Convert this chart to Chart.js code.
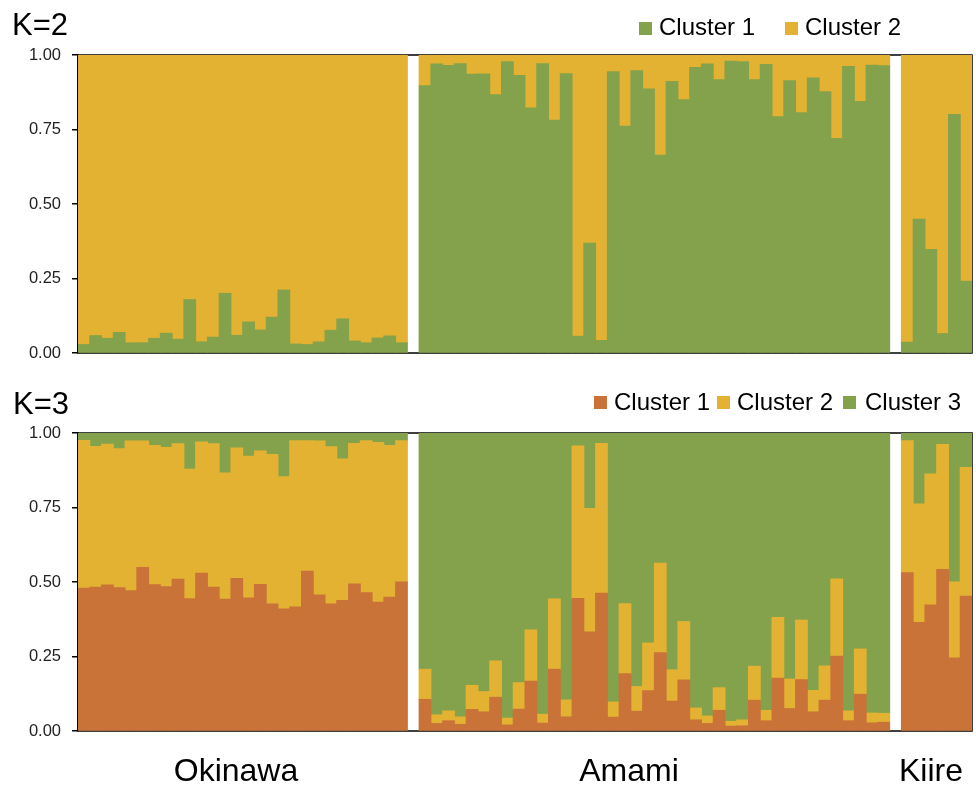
<!DOCTYPE html>
<html>
<head>
<meta charset="utf-8">
<script src="https://cdn.jsdelivr.net/npm/chart.js@4.4.1/dist/chart.umd.min.js"></script>
<style>
  html, body { margin:0; padding:0; background:#fff; }
  body { width:976px; height:785px; position:relative; overflow:hidden; font-family:"Liberation Sans", Arial, sans-serif; }
  canvas { position:absolute; left:0; }
  .t { position:absolute; line-height:1; color:#000; white-space:nowrap; }
  .sq { position:absolute; width:13px; height:13px; }
</style>
</head>
<body>
<canvas id="c2" width="976" height="380" style="top:0"></canvas>
<canvas id="c3" width="976" height="405" style="top:380px"></canvas>

<div class="t" style="left:12px;top:8.8px;font-size:31px">K=2</div>
<div class="sq" style="left:639px;top:22px;background:#84A24B"></div>
<div class="t" style="left:659px;top:14.7px;font-size:24px">Cluster 1</div>
<div class="sq" style="left:785px;top:22px;background:#E3B233"></div>
<div class="t" style="left:805px;top:14.7px;font-size:24px">Cluster 2</div>

<div class="t" style="left:13px;top:387.8px;font-size:31px">K=3</div>
<div class="sq" style="left:594px;top:396px;background:#C97339"></div>
<div class="t" style="left:614px;top:389.7px;font-size:24px">Cluster 1</div>
<div class="sq" style="left:717px;top:396px;background:#E3B233"></div>
<div class="t" style="left:737px;top:389.7px;font-size:24px">Cluster 2</div>
<div class="sq" style="left:843px;top:396px;background:#84A24B"></div>
<div class="t" style="left:865px;top:389.7px;font-size:24px">Cluster 3</div>

<div class="t" style="left:136px;width:200px;text-align:center;top:753.9px;font-size:32px">Okinawa</div>
<div class="t" style="left:529px;width:200px;text-align:center;top:753.9px;font-size:32px">Amami</div>
<div class="t" style="left:831px;width:200px;text-align:center;top:753.9px;font-size:32px">Kiire</div>

<script>
// ---------- DATA ----------
const populations = ["Okinawa", "Amami", "Kiire"];
const yTickValues = [0, 0.25, 0.5, 0.75, 1.0];

// K=2
const okinawaK2C1 = [0.028,0.058,0.049,0.069,0.034,0.034,0.049,0.066,0.046,0.179,0.037,0.053,0.200,0.059,0.104,0.077,0.120,0.211,0.030,0.028,0.037,0.076,0.114,0.040,0.034,0.050,0.057,0.034];
const okinawaK2C2 = [0.972,0.942,0.951,0.931,0.966,0.966,0.951,0.934,0.954,0.821,0.963,0.947,0.800,0.941,0.896,0.923,0.880,0.789,0.970,0.972,0.963,0.924,0.886,0.960,0.966,0.950,0.943,0.966];
const amamiK2C1 = [0.897,0.970,0.965,0.971,0.935,0.936,0.867,0.977,0.931,0.822,0.971,0.781,0.937,0.056,0.368,0.042,0.944,0.761,0.947,0.886,0.664,0.911,0.850,0.958,0.970,0.917,0.979,0.977,0.917,0.968,0.793,0.914,0.806,0.923,0.877,0.720,0.961,0.844,0.966,0.964];
const amamiK2C2 = [0.103,0.030,0.035,0.029,0.065,0.064,0.133,0.023,0.069,0.178,0.029,0.219,0.063,0.944,0.632,0.958,0.056,0.239,0.053,0.114,0.336,0.089,0.150,0.042,0.030,0.083,0.021,0.023,0.083,0.032,0.207,0.086,0.194,0.077,0.123,0.280,0.039,0.156,0.034,0.036];
const kiireK2C1 = [0.036,0.449,0.347,0.065,0.800,0.241];
const kiireK2C2 = [0.964,0.551,0.653,0.935,0.200,0.759];

// K=3
const okinawaK3C1 = [0.479,0.482,0.490,0.481,0.471,0.549,0.491,0.484,0.509,0.444,0.529,0.482,0.442,0.512,0.446,0.492,0.426,0.409,0.416,0.536,0.456,0.426,0.438,0.493,0.464,0.432,0.449,0.500];
const okinawaK3C2 = [0.496,0.473,0.472,0.466,0.502,0.424,0.467,0.467,0.455,0.434,0.441,0.482,0.424,0.438,0.476,0.448,0.502,0.444,0.558,0.438,0.517,0.528,0.475,0.472,0.510,0.536,0.509,0.474];
const okinawaK3C3 = [0.025,0.045,0.038,0.053,0.027,0.027,0.042,0.049,0.036,0.122,0.030,0.036,0.134,0.050,0.078,0.060,0.072,0.147,0.026,0.026,0.027,0.046,0.087,0.035,0.026,0.032,0.042,0.026];
const amamiK3C1 = [0.106,0.025,0.034,0.022,0.072,0.064,0.113,0.020,0.073,0.167,0.026,0.207,0.047,0.445,0.332,0.462,0.046,0.192,0.066,0.135,0.263,0.100,0.171,0.037,0.025,0.069,0.016,0.017,0.103,0.034,0.177,0.075,0.172,0.064,0.103,0.251,0.034,0.123,0.027,0.029];
const amamiK3C2 = [0.101,0.029,0.033,0.025,0.081,0.068,0.122,0.023,0.089,0.172,0.030,0.236,0.057,0.511,0.415,0.503,0.051,0.235,0.083,0.160,0.300,0.105,0.196,0.040,0.025,0.076,0.016,0.020,0.114,0.035,0.204,0.099,0.200,0.072,0.115,0.259,0.033,0.152,0.033,0.030];
const amamiK3C3 = [0.793,0.946,0.933,0.953,0.847,0.868,0.765,0.957,0.838,0.661,0.944,0.557,0.896,0.044,0.253,0.035,0.903,0.573,0.851,0.705,0.437,0.795,0.633,0.923,0.950,0.855,0.968,0.963,0.783,0.931,0.619,0.826,0.628,0.864,0.782,0.490,0.933,0.725,0.940,0.941];
const kiireK3C1 = [0.531,0.364,0.423,0.542,0.245,0.452];
const kiireK3C2 = [0.443,0.398,0.439,0.419,0.255,0.432];
const kiireK3C3 = [0.026,0.238,0.138,0.039,0.500,0.116];

// ---------- BUILD ----------
const counts = [okinawaK2C1.length, amamiK2C1.length, kiireK2C1.length];
const categories = [];
populations.forEach((p, gi) => {
  for (let i = 0; i < counts[gi]; i++) categories.push(p + " " + (i + 1));
  if (gi < populations.length - 1) categories.push("");
});
function join(ok, am, ki) { return [...ok, null, ...am, null, ...ki]; }

const GREEN = "#84A24B", YELLOW = "#E3B233", ORANGE = "#C97339";

const framePlugin = {
  id: "frame",
  beforeDatasetsDraw(chart) {
    const a = chart.chartArea, ctx = chart.ctx;
    ctx.save();
    ctx.strokeStyle = "#000";
    ctx.lineWidth = 1.5;
    ctx.strokeRect(a.left, a.top, a.right - a.left, a.bottom - a.top);
    ctx.restore();
  }
};

function makeOptions(padTop, padBottom) {
  return {
    responsive: false,
    animation: false,
    layout: { padding: { top: padTop, bottom: padBottom, right: 4, left: 0 } },
    plugins: { legend: { display: false }, tooltip: { enabled: false } },
    datasets: { bar: { barPercentage: 1, categoryPercentage: 1, borderWidth: 0, inflateAmount: 0.5 } },
    scales: {
      x: { stacked: true, display: false },
      y: {
        stacked: true, min: 0, max: 1,
        afterFit(s) { s.width = 78; },
        afterBuildTicks(s) { s.ticks = yTickValues.map(v => ({ value: v })); },
        ticks: {
          callback: v => Number(v).toFixed(2),
          color: "#222",
          padding: 11,
          font: { family: "'Liberation Sans', Arial, sans-serif", size: 16.5 }
        },
        grid: { drawOnChartArea: false, drawTicks: true, tickLength: 6, color: "#000", lineWidth: 1.5 },
        border: { display: true, color: "#000", width: 1.5 }
      }
    }
  };
}

new Chart(document.getElementById("c2"), {
  type: "bar",
  data: {
    labels: categories,
    datasets: [
      { label: "Cluster 1", data: join(okinawaK2C1, amamiK2C1, kiireK2C1), backgroundColor: GREEN },
      { label: "Cluster 2", data: join(okinawaK2C2, amamiK2C2, kiireK2C2), backgroundColor: YELLOW }
    ]
  },
  options: makeOptions(55, 27),
  plugins: [framePlugin]
});

new Chart(document.getElementById("c3"), {
  type: "bar",
  data: {
    labels: categories,
    datasets: [
      { label: "Cluster 1", data: join(okinawaK3C1, amamiK3C1, kiireK3C1), backgroundColor: ORANGE },
      { label: "Cluster 2", data: join(okinawaK3C2, amamiK3C2, kiireK3C2), backgroundColor: YELLOW },
      { label: "Cluster 3", data: join(okinawaK3C3, amamiK3C3, kiireK3C3), backgroundColor: GREEN }
    ]
  },
  options: makeOptions(53, 54),
  plugins: [framePlugin]
});
</script>
</body>
</html>
